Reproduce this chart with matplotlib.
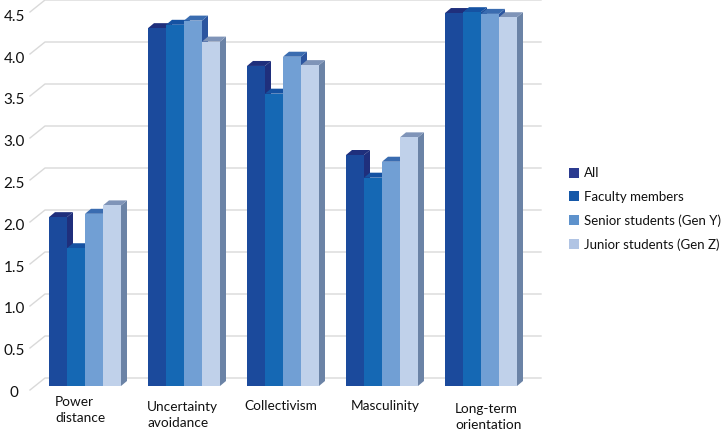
#!/usr/bin/env python3
import matplotlib
matplotlib.use("Agg")
import matplotlib.pyplot as plt
from matplotlib.patches import Patch, Polygon

plt.rcParams["font.family"] = ["Lato", "DejaVu Sans"]

categories = ["Power\ndistance", "Uncertainty\navoidance", "Collectivism", "Masculinity", "Long-term\norientation"]
series_names = ["All", "Faculty members", "Senior students (Gen Y)", "Junior students (Gen Z)"]
all_vals = [2.01, 4.26, 3.81, 2.75, 4.44]
faculty = [1.64, 4.30, 3.48, 2.48, 4.45]
senior = [2.05, 4.35, 3.92, 2.67, 4.43]
junior = [2.15, 4.10, 3.82, 2.96, 4.39]
y_ticks = [0, 0.5, 1.0, 1.5, 2.0, 2.5, 3.0, 3.5, 4.0, 4.5]
y_labels = ["0", "0.5", "1.0", "1.5", "2.0", "2.5", "3.0", "3.5", "4.0", "4.5"]

front_cols = ["#1b4a9c", "#1568b4", "#719fd4", "#c0d1ea"]
top_cols = ["#1f2f7c", "#1552a2", "#3a6cb0", "#7f94b8"]
side_cols = ["#1f2f7c", "#1a4c98", "#2c559f", "#6b83a6"]
legend_cols = ["#2b3b90", "#1558a8", "#5e92cc", "#b0c4e4"]

W, H = 723, 430
PX_X = 99.0   # pixels per category
PX_Y = 84.0   # pixels per value unit
X0, Y0 = 85, 386  # pixel position of first category centre / value 0


def px(x, y):
    """pixel position (origin top left) -> data coords"""
    return (x - X0) / PX_X, (Y0 - y) / PX_Y


fig = plt.figure(figsize=(W / 100, H / 100), dpi=100)
ax = fig.add_axes([0, 0, 1, 1])
ax.set_xlim(px(0, 0)[0], px(W, 0)[0])
ax.set_ylim(px(0, H)[1], px(0, 0)[1])
ax.axis("off")

# gridlines on the floor stub + back wall
gx0, _ = px(30, 0)
gx1, _ = px(45, 0)
gx2, _ = px(541, 0)
back = 8 / PX_Y
stub = 4 / PX_Y
for v, lab in zip(y_ticks, y_labels):
    ax.plot([gx0, gx1, gx2], [v - stub, v + back, v + back], color="#d9d9d9", lw=1.0, zorder=1)
    ax.text(px(14, 0)[0], v * 0.995 - 7 / PX_Y, lab, ha="center", va="center", fontsize=11, color="#111111")

bar_w = 18 / PX_X
dx = 6 / PX_X
dy = 5 / PX_Y
all_series = [all_vals, faculty, senior, junior]
for i in range(len(categories)):
    for j, vals in enumerate(all_series):
        v = vals[i]
        left = i + (j - 2) * bar_w
        right = left + bar_w
        z = 3 + j
        ax.add_patch(Polygon([(right, 0), (right + dx, dy), (right + dx, v + dy), (right, v)],
                             closed=True, fc=side_cols[j], ec="none", zorder=z))
        ax.add_patch(Polygon([(left, v), (left + dx, v + dy), (right + dx, v + dy), (right, v)],
                             closed=True, fc=top_cols[j], ec="none", zorder=z))
        ax.bar(left, v, width=bar_w, align="edge", color=front_cols[j], zorder=z + 0.5)

# category labels are hand placed in the original
label_pos = [(55, 410), (147, 415), (244, 406), (351, 406), (455, 417)]
for name, (lx, ly) in zip(categories, label_pos):
    tx, ty = px(lx, ly)
    ax.text(tx, ty, name, ha="left", va="center", fontsize=9.8, color="#111111", linespacing=1.34)

handles = [Patch(fc=c, ec="none") for c in legend_cols]
ax.legend(handles, series_names, loc="center left", bbox_to_anchor=(569 / W, 1 - 209 / H),
          frameon=False, fontsize=9.5, labelspacing=0.86, handlelength=0.72, handleheight=0.72,
          handletextpad=0.42, borderpad=0, borderaxespad=0, labelcolor="#111111")

fig.savefig("out.png", dpi=100)
